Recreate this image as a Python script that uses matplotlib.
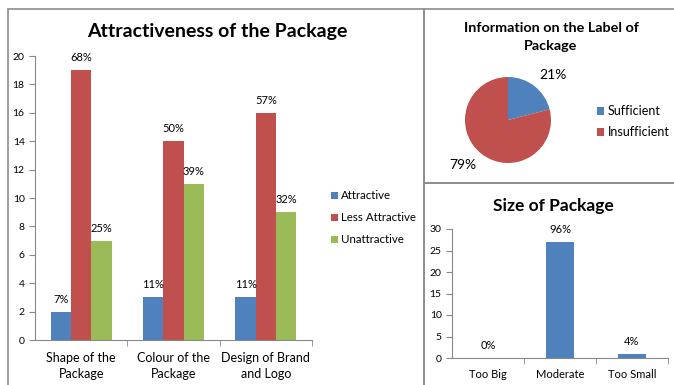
"""
Recreate package survey charts: attractiveness, label info, size
"""
import matplotlib
matplotlib.use('Agg')
import matplotlib.pyplot as plt
from matplotlib.patches import Rectangle
import numpy as np

plt.rcParams['font.family'] = ['Lato', 'DejaVu Sans']

# Attractiveness of the Package
aspects = ['Shape of the\nPackage', 'Colour of the\nPackage', 'Design of Brand\nand Logo']
attractive = [2, 3, 3]
less_attractive = [19, 14, 16]
unattractive = [7, 11, 9]
attractive_pct = ['7%', '11%', '11%']
less_attractive_pct = ['68%', '50%', '57%']
unattractive_pct = ['25%', '39%', '32%']

# Information on the Label of Package
label_info = ['Sufficient', 'Insufficient']
label_share = [21, 79]

# Size of Package
sizes = ['Too Big', 'Moderate', 'Too Small']
size_counts = [0, 27, 1]
size_pct = ['0%', '96%', '4%']

BLUE = '#4F81BD'
RED = '#C0504D'
GREEN = '#9BBB59'
W, H = 674, 385

fig = plt.figure(figsize=(6.74, 3.85), dpi=100)

# panel borders (pixel coords -> figure fraction)
def panel(x0, y0, x1, y1):
    fig.patches.append(Rectangle((x0 / W, 1 - y1 / H), (x1 - x0) / W, (y1 - y0) / H,
                                 transform=fig.transFigure, fill=False,
                                 edgecolor='#8c8c8c', linewidth=1.2))

panel(8, 9, 424, 386)
panel(424, 9, 675, 183)
panel(424, 183, 675, 386)

# left: grouped bars
ax = fig.add_axes([35 / W, 1 - 340 / H, 277 / W, 284 / H])
x = np.arange(len(aspects))
width = 0.22
series = [(attractive, attractive_pct, BLUE, 'Attractive'),
          (less_attractive, less_attractive_pct, RED, 'Less Attractive'),
          (unattractive, unattractive_pct, GREEN, 'Unattractive')]
for i, (vals, pcts, color, name) in enumerate(series):
    bars = ax.bar(x + (i - 1) * width, vals, width, color=color, label=name)
    for bar, p in zip(bars, pcts):
        ax.annotate(p, xy=(bar.get_x() + bar.get_width() / 2, bar.get_height()),
                    xytext=(0, 5), textcoords='offset points',
                    ha='center', va='bottom', fontsize=8)
ax.set_xlim(-0.5, 2.5)
ax.set_ylim(0, 20)
ax.set_yticks(range(0, 21, 2))
ax.set_xticks(x)
ax.set_xticklabels(aspects, fontsize=9, linespacing=1.35)
ax.set_xticks([0.5, 1.5, 2.5], minor=True)
ax.tick_params(axis='x', which='major', length=0, pad=9)
ax.tick_params(axis='x', which='minor', length=4, color='#888888')
ax.tick_params(axis='y', labelsize=7.5, length=4, color='#888888')
for s in ['top', 'right']:
    ax.spines[s].set_visible(False)
for s in ['left', 'bottom']:
    ax.spines[s].set_color('#888888')
fig.text(217 / W, 1 - 31 / H, 'Attractiveness of the Package', fontsize=14,
         fontweight='bold', ha='center', va='center')
ax.legend(loc='center left', bbox_to_anchor=(1.03, 0.43), frameon=False,
          fontsize=8.3, handlelength=0.6, handleheight=0.6, handletextpad=0.3,
          labelspacing=0.95)

# right top: pie
pax = fig.add_axes([465 / W, 1 - 163 / H, 86 / W, 86 / H])
wedges, _ = pax.pie(label_share, colors=[BLUE, RED], startangle=90,
                    counterclock=False)
pax.set_xlim(-1, 1)
pax.set_ylim(-1, 1)
pax.set_aspect('equal')
pax.text(1.05, 1.05, f'{label_share[0]}%', fontsize=10, ha='center', va='center')
pax.text(-1.05, -1.05, f'{label_share[1]}%', fontsize=10, ha='center', va='center')
pax.legend(wedges, label_info, loc='center left', bbox_to_anchor=(1.4, 0.48),
           frameon=False, fontsize=9, handlelength=0.6, handleheight=0.6,
           handletextpad=0.3, labelspacing=0.75)
fig.text(551 / W, 1 - 37 / H, 'Information on the Label of\nPackage', fontsize=10.4,
         fontweight='bold', ha='center', va='center', linespacing=1.65)

# right bottom: size bars
bax = fig.add_axes([452 / W, 1 - 358 / H, 216 / W, 129 / H])
xb = np.arange(len(sizes))
bbars = bax.bar(xb, size_counts, 0.38, color=BLUE)
for bar, p in zip(bbars, size_pct):
    bax.annotate(p, xy=(bar.get_x() + bar.get_width() / 2, bar.get_height()),
                 xytext=(0, 5), textcoords='offset points',
                 ha='center', va='bottom', fontsize=8)
bax.set_xlim(-0.5, 2.5)
bax.set_ylim(0, 30)
bax.set_yticks(range(0, 31, 5))
bax.set_xticks(xb)
bax.set_xticklabels(sizes, fontsize=8)
bax.set_xticks([0.5, 1.5, 2.5], minor=True)
bax.tick_params(axis='x', which='major', length=0, pad=8)
bax.tick_params(axis='x', which='minor', length=4, color='#888888')
bax.tick_params(axis='y', labelsize=7.5, length=4, color='#888888')
for s in ['top', 'right']:
    bax.spines[s].set_visible(False)
for s in ['left', 'bottom']:
    bax.spines[s].set_color('#888888')
fig.text(553 / W, 1 - 206 / H, 'Size of Package', fontsize=12.5,
         fontweight='bold', ha='center', va='center')

fig.savefig('out.png', dpi=100)
